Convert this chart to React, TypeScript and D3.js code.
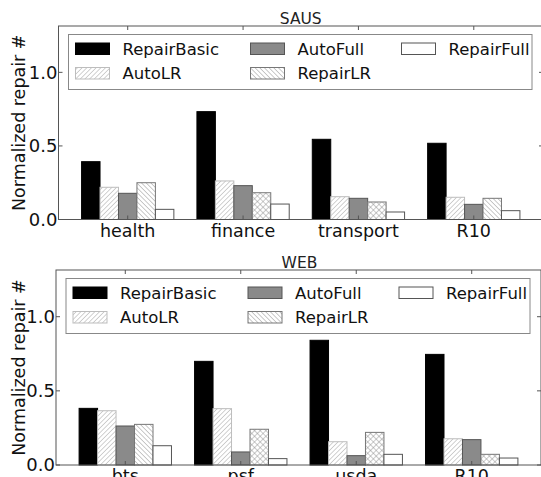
import React from "react";
import { scaleLinear } from "d3";

const seriesNames = ["RepairBasic", "AutoLR", "AutoFull", "RepairLR", "RepairFull"];

const sausCategories = ["health", "finance", "transport", "R10"];
// one row per category, in seriesNames order
const sausValues = [
  [0.393, 0.219, 0.178, 0.25, 0.069],
  [0.733, 0.262, 0.23, 0.182, 0.105],
  [0.545, 0.155, 0.144, 0.119, 0.051],
  [0.518, 0.151, 0.103, 0.144, 0.06],
];

const webCategories = ["bts", "psf", "usda", "R10"];
const webValues = [
  [0.382, 0.366, 0.263, 0.274, 0.13],
  [0.699, 0.38, 0.088, 0.241, 0.043],
  [0.841, 0.157, 0.063, 0.22, 0.072],
  [0.746, 0.177, 0.171, 0.072, 0.047],
];

const yTicks = [0, 0.5, 1.0];

const font = "'DejaVu Sans', sans-serif";
const barWidth = 0.16;

const fills = ["#000", "url(#hatchFwd)", "#8a8a8a", "url(#hatchBack)", "#fff"];
const edges = ["#000", "#bdbdbd", "#555", "#777", "#555"];

// RepairLR bars that render as cross-hatch in the original
const sausCross = ["finance", "transport"];
const webCross = ["psf", "usda", "R10"];

// legend swatch offsets inside the legend box (3 columns, column-major)
const legendCols = [7, 182, 333];
const legendRows = [8.5, 33];

const Panel = ({ title, categories, values, cross, left, right, top, bottom }) => {
  const x = scaleLinear().domain([-0.2, 4.0]).range([left, right]);
  const y = scaleLinear().domain([0, 1.315]).range([bottom, top]);
  const bw = x(barWidth) - x(0);
  const legLeft = left + 10;
  const legTop = top + 8.5;
  const legW = right - left - 21;
  const legH = 55;

  return (
    <g>
      <text x={(left + Math.min(right, 541)) / 2 + 1} y={top - 2} fontSize={15.5} textAnchor="middle" fontFamily={font} fill="#222">
        {title}
      </text>
      {categories.map((c, g) =>
        values[g].map((v, i) => (
          <rect
            key={c + i}
            x={x(g + i * barWidth)}
            y={y(v)}
            width={bw}
            height={y(0) - y(v)}
            fill={i === 3 && cross.includes(c) ? "url(#hatchCross)" : fills[i]}
            stroke={edges[i]}
            strokeWidth={1}
          />
        ))
      )}
      {/* spines */}
      <rect x={left} y={top} width={right - left} height={bottom - top} fill="none" stroke="#555" strokeWidth={1} />
      {categories.map((c, g) => (
        <g key={c} transform={`translate(${x(g + 0.4)},0)`}>
          <line y1={bottom} y2={bottom - 4} stroke="#555" />
          <line y1={top} y2={top + 4} stroke="#555" />
          <text y={bottom + 17} fontSize={17.5} textAnchor="middle" fontFamily={font} fill="#111">
            {c}
          </text>
        </g>
      ))}
      {yTicks.map((t) => (
        <g key={t} transform={`translate(0,${y(t)})`}>
          <line x1={left} x2={left + 4} stroke="#555" />
          <line x1={right} x2={right - 4} stroke="#555" />
          <text x={left - 1} dy="0.36em" fontSize={18} textAnchor="end" fontFamily={font} fill="#111">
            {t.toFixed(1)}
          </text>
        </g>
      ))}
      <text
        transform={`translate(${25},${(top + bottom) / 2}) rotate(-90)`}
        fontSize={17.5}
        textAnchor="middle"
        fontFamily={font}
        fill="#111"
      >
        Normalized repair #
      </text>
      {/* legend */}
      <rect x={legLeft} y={legTop} width={legW} height={legH} fill="#fff" stroke="#888" strokeWidth={1} />
      {seriesNames.map((s, i) => {
        const col = Math.floor(i / 2);
        const row = i % 2;
        const sx = legLeft + legendCols[col];
        const sy = legTop + legendRows[row];
        return (
          <g key={s}>
            <rect x={sx} y={sy} width={34} height={11.5} fill={fills[i]} stroke={edges[i]} strokeWidth={1} />
            <text x={sx + 47} y={sy + 5.8} dy="0.36em" fontSize={16.5} fontFamily={font} fill="#111">
              {s}
            </text>
          </g>
        );
      })}
    </g>
  );
};

export default function App() {
  return (
    <svg width={541} height={477} style={{ position: "absolute", left: 0, top: 0, background: "#fff" }}>
      <defs>
        <pattern id="hatchFwd" width={3.3} height={3.3} patternUnits="userSpaceOnUse" patternTransform="rotate(45)">
          <rect width={3.3} height={3.3} fill="#fff" />
          <line x1={0} y1={0} x2={0} y2={3.3} stroke="#9a9a9a" strokeWidth={0.9} />
        </pattern>
        <pattern id="hatchBack" width={3.3} height={3.3} patternUnits="userSpaceOnUse" patternTransform="rotate(-45)">
          <rect width={3.3} height={3.3} fill="#fff" />
          <line x1={0} y1={0} x2={0} y2={3.3} stroke="#8a8a8a" strokeWidth={0.9} />
        </pattern>
        <pattern id="hatchCross" width={4} height={4} patternUnits="userSpaceOnUse" patternTransform="rotate(45)">
          <rect width={4} height={4} fill="#fff" />
          <line x1={0} y1={0} x2={0} y2={4} stroke="#8a8a8a" strokeWidth={0.9} />
          <line x1={0} y1={0} x2={4} y2={0} stroke="#8a8a8a" strokeWidth={0.9} />
        </pattern>
      </defs>
      <Panel title="SAUS" categories={sausCategories} values={sausValues} cross={sausCross} left={58.5} right={543} top={26} bottom={219.5} />
      <Panel title="WEB" categories={webCategories} values={webValues} cross={webCross} left={56} right={541} top={270} bottom={465} />
    </svg>
  );
}
